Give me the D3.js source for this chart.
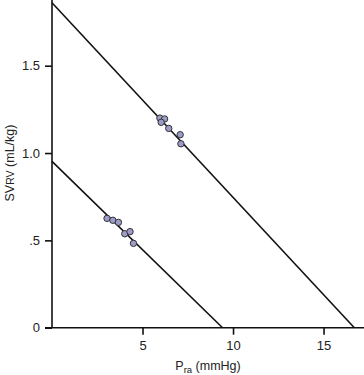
<!DOCTYPE html>
<html>
<head>
<meta charset="utf-8">
<script src="https://cdn.jsdelivr.net/npm/d3@7"></script>
<style>
body { margin: 0; background: #fff; }
text { font-family: "Liberation Sans", Arial, sans-serif; fill: #222; }
</style>
</head>
<body>
<div id="chart"></div>
<script>
// values
var xTicks = [5, 10, 15];
var yTicks = [0, 0.5, 1.0, 1.5];
var yTickLabels = ["0", ".5", "1.0", "1.5"];

// fitted lines: [x, y] end points
var upperLine = [[0, 1.86], [16.7, 0]];
var lowerLine = [[0, 0.952], [9.42, 0]];

var upperPra = [5.96, 6.22, 6.03, 6.45, 7.08, 7.12];
var upperSv = [1.20, 1.195, 1.176, 1.141, 1.105, 1.053];
var lowerPra = [3.04, 3.36, 3.67, 4.02, 4.31, 4.50];
var lowerSv = [0.626, 0.615, 0.603, 0.538, 0.550, 0.483];

var width = 364, height = 375;
var svg = d3.select("#chart").append("svg")
    .attr("width", width)
    .attr("height", height);

var x = d3.scaleLinear().domain([0, 17.4]).range([52, 367]);
var y = d3.scaleLinear().domain([0, 1.5]).range([327.7, 65.7]);

var g = svg.append("g");

// axes
var xAxis = d3.axisBottom(x).tickValues(xTicks).tickSize(7).tickSizeOuter(0).tickPadding(6);
var yAxis = d3.axisLeft(y).tickValues(yTicks).tickSize(7).tickSizeOuter(0).tickPadding(5)
    .tickFormat(function(d, i) { return yTickLabels[i]; });

var gx = g.append("g").attr("transform", "translate(0," + y(0) + ")").call(xAxis);
gx.select(".domain").attr("d", "M" + (x(0) - 7) + ",0H" + width);
var gy = g.append("g").attr("transform", "translate(" + x(0) + ",0)").call(yAxis);
gy.select(".domain").attr("d", "M0," + y(0) + "V0");

g.selectAll(".domain, .tick line").attr("stroke", "#111").attr("stroke-width", 1.6);
g.selectAll(".tick text").style("font-size", "13px").attr("fill", "#222")
    .style("font-family", "'Liberation Sans', Arial, sans-serif");

// lines
var line = d3.line().x(function(d) { return x(d[0]); }).y(function(d) { return y(d[1]); });
g.selectAll(".fit").data([upperLine, lowerLine]).enter().append("path")
    .attr("class", "fit")
    .attr("d", line)
    .attr("fill", "none")
    .attr("stroke", "#111")
    .attr("stroke-width", 1.6);

// points
var pts = upperPra.map(function(v, i) { return [v, upperSv[i]]; })
    .concat(lowerPra.map(function(v, i) { return [v, lowerSv[i]]; }));
g.selectAll("circle").data(pts).enter().append("circle")
    .attr("cx", function(d) { return x(d[0]); })
    .attr("cy", function(d) { return y(d[1]); })
    .attr("r", 3.2)
    .attr("fill", "#9c9cc9")
    .attr("stroke", "#333")
    .attr("stroke-width", 1);

// labels
var xl = svg.append("text")
    .attr("x", 208).attr("y", 370)
    .attr("text-anchor", "middle")
    .style("font-size", "12.5px");
xl.append("tspan").text("P");
xl.append("tspan").attr("dy", 3).style("font-size", "9.5px").text("ra");
xl.append("tspan").attr("dy", -3).text(" (mmHg)");

var yl = svg.append("text")
    .attr("transform", "translate(14,163) rotate(-90)")
    .attr("text-anchor", "middle")
    .style("font-size", "12.5px");
yl.append("tspan").text("SV");
yl.append("tspan").style("font-size", "10.5px").text("RV");
yl.append("tspan").text(" (mL/kg)");
</script>
</body>
</html>
